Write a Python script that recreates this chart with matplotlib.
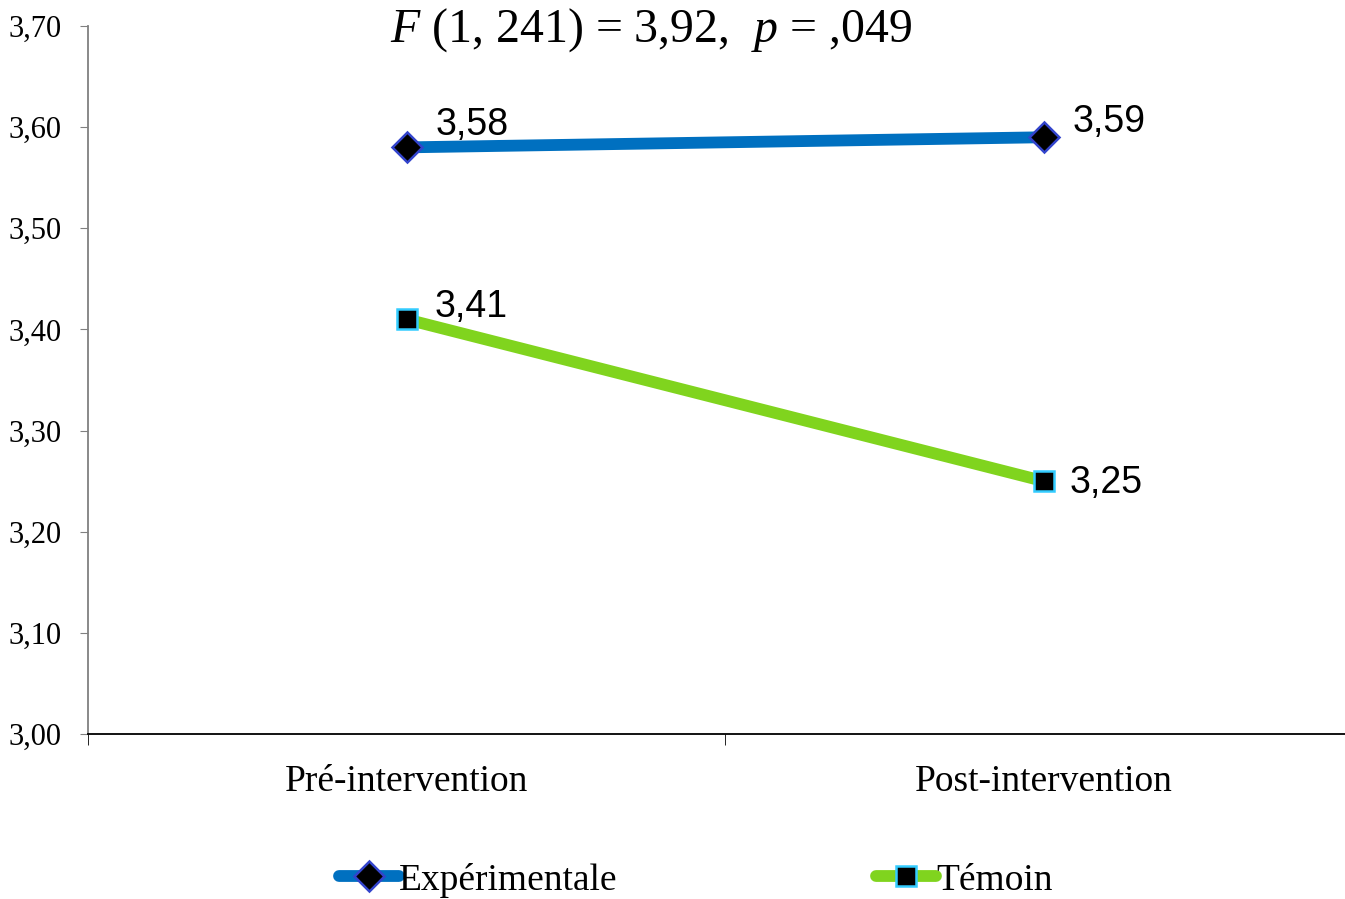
import numpy as np
import matplotlib.pyplot as plt
from matplotlib.ticker import FuncFormatter

# moyennes par groupe
temps = ["Pré-intervention", "Post-intervention"]
experimentale = [3.58, 3.59]
temoin = [3.41, 3.25]
titre = r"$F$ (1, 241) = 3,92,  $p$ = ,049"

plt.rcParams['font.family'] = ['Liberation Serif', 'DejaVu Serif']
plt.rcParams['mathtext.fontset'] = 'custom'
plt.rcParams['mathtext.rm'] = 'Liberation Serif'
plt.rcParams['mathtext.it'] = 'Liberation Serif:italic'

fig = plt.figure(figsize=(13.45, 8.99), dpi=100)
ax = fig.add_axes([88/1345, 1-734/899, 1257/1345, 708/899])

x = np.arange(len(temps))
ax.plot(x, experimentale, color="#0070C0", lw=8.5, solid_capstyle="round",
        marker="D", ms=15, mfc="black", mec="#3344CC", mew=1.8,
        label="Expérimentale", zorder=3)
ax.plot(x, temoin, color="#80D41E", lw=8.5, solid_capstyle="round",
        marker="s", ms=14, mfc="black", mec="#33CCFF", mew=1.8,
        label="Témoin", zorder=3)

# étiquettes des valeurs
offsets_exp = [(21, 16), (21, 11)]
offsets_tem = [(20, 9), (19, -1)]
for xi, v, off in zip(x, experimentale, offsets_exp):
    ax.annotate(f"{v:.2f}".replace(".", ","), (xi, v), xytext=off,
                textcoords="offset points", fontsize=27,
                family="Liberation Sans", va="center", ha="left")
for xi, v, off in zip(x, temoin, offsets_tem):
    ax.annotate(f"{v:.2f}".replace(".", ","), (xi, v), xytext=off,
                textcoords="offset points", fontsize=27,
                family="Liberation Sans", va="center", ha="left")

ax.set_ylim(3.0, 3.7)
ax.set_yticks(np.arange(3.0, 3.71, 0.1))
ax.yaxis.set_major_formatter(FuncFormatter(lambda v, p: f"{v:.2f}".replace(".", ",")))
ax.set_xlim(-0.5, 1.473)
ax.set_xticks(x)
ax.set_xticklabels(temps, fontsize=27)
ax.set_xticks([-0.5, 0.5], minor=True)
ax.tick_params(axis="x", which="major", length=0, pad=22)
ax.tick_params(axis="x", which="minor", length=8, color="black")
ax.tick_params(axis="y", labelsize=22, length=6, color="#808080", pad=13)
ax.xaxis.get_minor_ticks()[0].tick1line.set_color("#808080")

for s in ["top", "right"]:
    ax.spines[s].set_visible(False)
ax.spines["left"].set_color("#808080")
ax.spines["left"].set_linewidth(1.3)
ax.spines["bottom"].set_color("black")
ax.spines["bottom"].set_linewidth(1.3)

fig.text(651/1345, 1-30/899, titre, fontsize=34.5, ha="center", va="center")

fig.legend(loc="center", bbox_to_anchor=(696/1345, 1-880/899), ncol=2,
           frameon=False, fontsize=27, columnspacing=6.9, handlelength=1.6,
           handletextpad=0.0)

plt.savefig("out.png", dpi=100)
